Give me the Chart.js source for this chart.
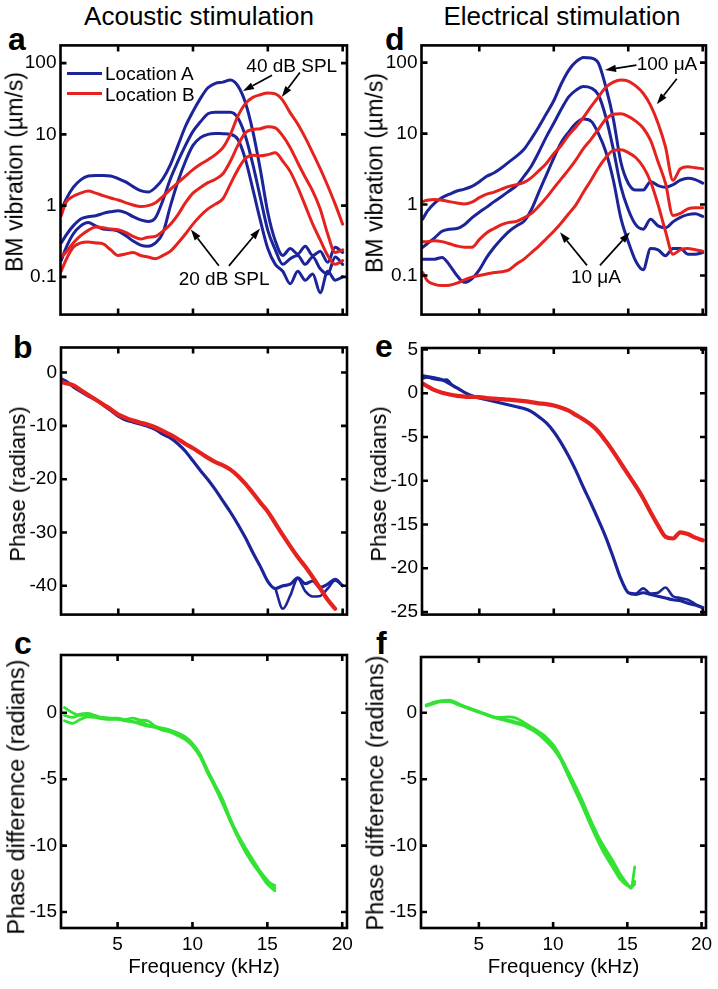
<!DOCTYPE html>
<html><head><meta charset="utf-8">
<script src="https://cdn.jsdelivr.net/npm/chart.js"></script>
<style>
body{margin:0;background:#fff;}
#fig{position:relative;width:718px;height:989px;background:#fff;overflow:hidden;font-family:"Liberation Sans",Arial,Helvetica,sans-serif;color:#000;}
#fig canvas{position:absolute;}
.lbl{position:absolute;white-space:nowrap;}
.ttl{font-size:26px;line-height:26px;width:300px;text-align:center;top:3px;}
.let{font-size:32px;line-height:32px;font-weight:bold;}
.ytl{position:absolute;white-space:nowrap;line-height:1;transform:translate(-50%,-50%) rotate(-90deg);}
</style></head><body><div id="fig">
<div class="lbl ttl" style="left:49px;">Acoustic stimulation</div>
<div class="lbl ttl" style="left:412px;">Electrical stimulation</div>
<div class="lbl let" style="left:8px;top:23px;">a</div>
<div class="lbl let" style="left:13px;top:331px;">b</div>
<div class="lbl let" style="left:14px;top:627px;">c</div>
<div class="lbl let" style="left:385px;top:23px;">d</div>
<div class="lbl let" style="left:375px;top:330px;">e</div>
<div class="lbl let" style="left:376px;top:627px;">f</div>
</div>
<script>
// ---------- data ----------
const FREQ = [1.2,1.5,2,2.5,3,3.5,4,4.5,5,5.5,6,6.5,7,7.5,8,8.5,9,9.5,10,10.5,11,11.5,12,12.5,13,13.5,14,14.5,15,15.5,16,16.5,17,17.5,18,18.5,19,19.5,20];
const FREQ_TICKS = [5,10,15,20];
const MAG_TICKS = [0.1,1,10,100];
const B_TICKS = [0,-10,-20,-30,-40];
const E_TICKS = [5,0,-5,-10,-15,-20,-25];
const CF_TICKS = [0,-5,-10,-15];

// panel a: acoustic, BM vibration (um/s)
const aBlue40 = [0.85,1.2,1.8,2.3,2.6,2.65,2.65,2.6,2.4,2.15,1.85,1.62,1.55,1.8,2.4,3.8,7,13,21,32,45,52,54,58,48,28,11,3.2,0.8,0.32,0.2,0.25,0.21,0.27,0.2,0.23,0.16,0.26,0.22];
const aBlue30 = [0.3,0.38,0.52,0.65,0.7,0.72,0.78,0.82,0.85,0.8,0.7,0.63,0.6,0.68,1.2,2.4,4.2,7,11,15,19.5,20.5,20.5,20.5,17,9.5,3.8,1.3,0.45,0.24,0.15,0.18,0.2,0.15,0.19,0.13,0.11,0.19,0.15];
const aBlue20 = [0.17,0.25,0.4,0.52,0.58,0.52,0.47,0.46,0.44,0.38,0.32,0.28,0.27,0.3,0.42,1.0,2.2,4.2,7,9,10,10.3,10.2,10,8.5,4.5,1.7,0.62,0.25,0.15,0.12,0.08,0.12,0.09,0.11,0.06,0.12,0.09,0.1];
const aRed40 = [0.72,1.1,1.35,1.5,1.6,1.5,1.38,1.28,1.2,1.1,1.02,0.97,1.0,1.1,1.35,1.7,2.1,2.6,3.2,3.8,4.4,5.2,6.5,10,18,27,33,36,38,37,30,20,14,9,5.5,3.3,1.9,1.05,0.55];
const aRed30 = [0.19,0.22,0.3,0.38,0.45,0.5,0.49,0.47,0.46,0.42,0.37,0.34,0.36,0.37,0.44,0.55,0.75,1.1,1.5,1.8,2.1,2.35,2.8,4.2,7,10.5,11.7,12,12.8,12.3,9.5,6.5,4,2.5,1.6,0.9,0.4,0.22,0.24];
const aRed20 = [0.12,0.17,0.26,0.3,0.31,0.3,0.29,0.24,0.2,0.21,0.22,0.2,0.19,0.18,0.2,0.23,0.3,0.4,0.55,0.72,0.9,1.05,1.25,2.0,3.2,4.6,5.1,5.0,5.2,5.5,4.2,3,1.8,1.0,0.55,0.33,0.2,0.15,0.17];

// panel d: electrical, BM vibration (um/s)
const dBlue100 = [0.62,0.8,1.05,1.25,1.4,1.55,1.65,1.8,2.1,2.5,2.8,3.3,4.0,4.8,6,8.5,12.5,19,29,50,78,103,118,116,98,45,16,4,2.0,1.6,1.6,2.1,1.85,1.75,1.9,2.2,2.35,2.25,2.0];
const dBlue50 = [0.25,0.28,0.34,0.42,0.45,0.46,0.52,0.65,0.78,0.92,1.1,1.3,1.55,1.85,2.5,3.5,5.5,9,14,22,33,41,46,44,35,17,6,1.8,0.85,0.52,0.45,0.62,0.5,0.47,0.57,0.66,0.72,0.74,0.68];
const dBlue10 = [0.17,0.17,0.17,0.18,0.14,0.1,0.08,0.09,0.12,0.18,0.25,0.33,0.42,0.5,0.58,0.85,1.5,2.6,4.5,7.5,10.5,14,16,15,10,5.5,2.2,0.65,0.3,0.16,0.12,0.24,0.23,0.19,0.24,0.24,0.2,0.2,0.21];
const dRed100 = [1.1,1.15,1.18,1.15,1.1,1.05,1.02,1.08,1.25,1.4,1.5,1.65,1.8,1.9,2.05,2.4,3.0,3.8,5.2,6.8,9.5,12.5,17,24,33,45,53,57,55,47,37,25,14,6.5,2.2,3.2,3.4,3.3,3.2];
const dRed30 = [0.3,0.3,0.31,0.3,0.28,0.26,0.25,0.25,0.32,0.4,0.46,0.52,0.56,0.58,0.65,0.75,0.95,1.25,1.7,2.3,3.1,4.3,6.2,8.3,11.5,16,18.7,19,17.5,15,12,8,4,2,0.7,0.75,0.87,0.9,0.9];
const dRed10 = [0.11,0.085,0.075,0.072,0.073,0.078,0.087,0.095,0.1,0.105,0.11,0.113,0.12,0.145,0.17,0.21,0.26,0.33,0.42,0.55,0.74,1.0,1.5,2.2,3.3,4.6,5.8,5.9,5.4,4.6,3.4,2.1,1.0,0.42,0.2,0.23,0.24,0.23,0.22];

// panel b: acoustic phase (radians)
const bRed = [-1.8,-2.0,-2.4,-3.3,-4.2,-5.1,-6.0,-6.9,-7.9,-8.5,-9.0,-9.4,-9.8,-10.3,-11.0,-11.7,-12.5,-13.4,-14.2,-15.1,-16.0,-16.8,-17.4,-18.2,-19.4,-20.9,-22.6,-24.4,-26.1,-28.3,-30.5,-32.6,-34.6,-36.4,-38.4,-40.5,-42.6,-44.3,null];
const bBlue = [-1.2,-1.6,-2.7,-3.6,-4.4,-5.1,-6.1,-7.1,-8.2,-8.9,-9.3,-9.7,-10.1,-10.7,-11.6,-12.3,-13.4,-14.8,-16.6,-18.4,-20.1,-22.0,-24.1,-26.2,-28.5,-31.0,-33.8,-36.4,-39.2,-40.5,-40.0,-39.7,-38.5,-39.6,-39.1,-40.3,-39.7,-38.8,-40.0];
const bBranchFreq = [15.5,16,16.5,17,17.5,18,18.5,19,19.5,20];
const bBlueBranch = [-40.5,-44.3,-41.8,-38.6,-41.0,-42.0,-41.9,-40.5,-39.0,-40.0];

// panel e: electrical phase (radians)
const eRed = [1.1,0.8,0.35,0.05,-0.15,-0.3,-0.38,-0.42,-0.45,-0.55,-0.62,-0.68,-0.74,-0.82,-0.9,-1.02,-1.15,-1.25,-1.4,-1.65,-2.0,-2.5,-3.0,-3.6,-4.4,-5.5,-6.7,-8.0,-9.3,-10.6,-12.0,-13.6,-15.1,-16.4,-16.6,-15.9,-16.1,-16.5,-16.8];
const eBlue = [2.0,1.9,1.75,1.55,1.1,0.6,0.1,-0.3,-0.55,-0.75,-0.95,-1.15,-1.35,-1.55,-1.75,-2.1,-2.7,-3.4,-4.4,-5.7,-7.2,-8.9,-10.8,-12.6,-14.5,-16.5,-18.8,-21.2,-22.8,-23.0,-22.8,-23.0,-23.2,-23.4,-23.6,-23.7,-24.0,-24.2,-24.5];
const eLowFreq = [1.2,1.5,2,2.5,2.8,3.2,3.6];
const eBlueLow = [1.7,1.8,1.6,1.5,1.55,0.9,0.5];
const eHighFreq = [15,15.5,16,16.5,17,17.5,18,18.5,19,19.5,20];
const eBlueHigh = [-22.8,-22.9,-22.3,-22.9,-22.8,-22.2,-23.2,-23.4,-23.6,-24.1,-24.5];

// panel c: acoustic phase difference (radians)
const cFreq = [1.45,2,2.5,3,3.5,4,4.5,5,5.5,6,6.5,7,7.5,8,8.5,9,9.5,10,10.5,11,11.5,12,12.5,13,13.5,14,14.5,15,15.5];
const cDiff1 = [0.4,0.0,-0.2,-0.15,-0.3,-0.35,-0.4,-0.4,-0.5,-0.4,-0.55,-0.6,-1.0,-1.15,-1.3,-1.5,-1.8,-2.3,-3.1,-4.3,-5.4,-6.5,-7.9,-9.1,-10.1,-11.0,-11.9,-12.6,-13.2];
const cDiff2 = [-0.2,-0.35,-0.1,-0.05,-0.2,-0.4,-0.45,-0.5,-0.55,-0.7,-0.7,-0.9,-1.05,-1.25,-1.4,-1.6,-1.95,-2.4,-3.2,-4.4,-5.5,-6.7,-8.0,-9.2,-10.3,-11.2,-12.0,-12.7,-13.0];
const cDiff3 = [-0.6,-0.8,-0.5,-0.3,-0.35,-0.45,-0.5,-0.45,-0.6,-0.65,-0.85,-1.0,-1.1,-1.3,-1.45,-1.7,-2.0,-2.5,-3.3,-4.5,-5.6,-6.8,-8.1,-9.3,-10.4,-11.3,-12.1,-12.9,-13.4];

// panel f: electrical phase difference (radians)
const fFreq = [1.45,2,2.5,3,3.5,4,4.5,5,5.5,6,6.5,7,7.5,8,8.5,9,9.5,10,10.5,11,11.5,12,12.5,13,13.5,14,14.5,15,15.25,15.5];
const fDiff1 = [0.55,0.8,0.9,0.95,0.75,0.5,0.3,0.1,-0.1,-0.3,-0.35,-0.3,-0.4,-0.7,-1.05,-1.4,-1.8,-2.4,-3.3,-4.4,-5.5,-6.7,-8.0,-9.2,-10.2,-11.1,-12.1,-12.9,-13.2,-11.6];
const fDiff2 = [0.5,0.7,0.85,0.85,0.65,0.45,0.25,0.05,-0.15,-0.35,-0.45,-0.55,-0.7,-0.85,-1.15,-1.5,-1.95,-2.55,-3.4,-4.6,-5.7,-6.9,-8.2,-9.4,-10.5,-11.4,-12.3,-12.9,-13.2,-12.7];
const fDiff3 = [0.6,0.75,0.9,0.9,0.7,0.45,0.25,0.05,-0.15,-0.35,-0.5,-0.65,-0.8,-0.95,-1.25,-1.6,-2.1,-2.7,-3.5,-4.7,-5.9,-7.1,-8.4,-9.6,-10.7,-11.6,-12.5,-13.0,-13.1,-12.9];

// ---------- styling & helpers ----------
const FAMILY = '"Liberation Sans", Arial, Helvetica, sans-serif';
const BLUE = '#1b2499', RED = '#e5221e', GREEN = '#33e233';
Chart.defaults.font.family = FAMILY;
Chart.defaults.color = '#000';
const fig = document.getElementById('fig');

function pts(xs, ys) { return xs.map((x, i) => ({x: x, y: ys[i]})); }
function line(xs, ys, color, width, label) {
  return {label: label, data: pts(xs, ys), borderColor: color, backgroundColor: color,
    borderWidth: width, pointRadius: 0, fill: false, cubicInterpolationMode: 'monotone',
    borderJoinStyle: 'round', borderCapStyle: 'round'};
}

const framePlugin = {
  id: 'frame',
  afterDatasetsDraw(chart, args, opts) {
    const ctx = chart.ctx, a = chart.chartArea;
    const xs = chart.scales.x, ys = chart.scales.y;
    const notes = (opts && opts.notes) || {};
    ctx.save();
    ctx.fillStyle = '#000'; ctx.strokeStyle = '#000';
    (notes.arrows || []).forEach(ar => {
      const x1 = xs.getPixelForValue(ar[0]), y1 = ys.getPixelForValue(ar[1]);
      const x2 = xs.getPixelForValue(ar[2]), y2 = ys.getPixelForValue(ar[3]);
      const ang = Math.atan2(y2 - y1, x2 - x1), hl = 11, hw = 3.6;
      const bx = x2 - hl * Math.cos(ang), by = y2 - hl * Math.sin(ang);
      ctx.lineWidth = 1.7;
      ctx.beginPath(); ctx.moveTo(x1, y1); ctx.lineTo(bx, by); ctx.stroke();
      ctx.beginPath(); ctx.moveTo(x2, y2);
      ctx.lineTo(bx + hw * Math.sin(ang), by - hw * Math.cos(ang));
      ctx.lineTo(bx - hw * Math.sin(ang), by + hw * Math.cos(ang));
      ctx.closePath(); ctx.fill();
    });
    ctx.font = '19px ' + FAMILY; ctx.textAlign = 'center'; ctx.textBaseline = 'middle';
    (notes.texts || []).forEach(t => ctx.fillText(t[2], xs.getPixelForValue(t[0]), ys.getPixelForValue(t[1])));
    // box and inward ticks
    ctx.lineWidth = 2.6;
    ctx.strokeRect(a.left, a.top, a.right - a.left, a.bottom - a.top);
    const tl = 6;
    ctx.beginPath();
    xs.ticks.forEach(t => {
      const px = xs.getPixelForValue(t.value);
      if (px < a.left - 0.5 || px > a.right + 0.5) return;
      ctx.moveTo(px, a.bottom); ctx.lineTo(px, a.bottom - tl);
      ctx.moveTo(px, a.top); ctx.lineTo(px, a.top + tl);
    });
    ys.ticks.forEach(t => {
      const py = ys.getPixelForValue(t.value);
      if (py < a.top - 0.5 || py > a.bottom + 0.5) return;
      ctx.moveTo(a.left, py); ctx.lineTo(a.left + tl, py);
      ctx.moveTo(a.right, py); ctx.lineTo(a.right - tl, py);
    });
    ctx.stroke();
    ctx.restore();
  }
};

function yTitle(text, cx, cy, size) {
  const d = document.createElement('div');
  d.className = 'ytl';
  d.style.left = cx + 'px'; d.style.top = cy + 'px'; d.style.fontSize = size + 'px';
  d.textContent = text;
  fig.appendChild(d);
}

function makePanel(p) {
  const cv = document.createElement('canvas');
  cv.width = p.box.w; cv.height = p.box.h;
  cv.style.left = p.box.x + 'px'; cv.style.top = p.box.y + 'px';
  cv.style.width = p.box.w + 'px'; cv.style.height = p.box.h + 'px';
  fig.appendChild(cv);
  const yw = p.plot.l - p.box.x, xh = p.box.y + p.box.h - p.plot.b;
  yTitle(p.yTitle[0], p.yTitle[1], p.yTitle[2], p.yTitle[3]);
  return new Chart(cv, {
    type: 'line',
    data: {datasets: p.datasets},
    options: {
      responsive: false, animation: false, devicePixelRatio: 1, events: [],
      layout: {padding: {left: 0, top: p.plot.t - p.box.y, right: p.box.x + p.box.w - p.plot.r, bottom: 0}},
      plugins: {legend: {display: false}, tooltip: {enabled: false}, frame: {notes: p.notes || {}}},
      scales: {
        x: {
          type: 'linear', min: p.xr[0], max: p.xr[1],
          afterBuildTicks: s => { s.ticks = FREQ_TICKS.map(v => ({value: v})); },
          afterFit: s => { s.height = xh; },
          grid: {display: false, drawTicks: false}, border: {display: false},
          ticks: {display: !!p.showX, padding: 5.3, maxRotation: 0, autoSkip: false, color: '#000', font: {size: 19}},
          title: {display: !!p.showX, text: 'Frequency (kHz)', color: '#000', font: {size: 20.5}, padding: {top: 0, bottom: 9.2}}
        },
        y: {
          type: p.log ? 'logarithmic' : 'linear', min: p.yr[0], max: p.yr[1],
          afterBuildTicks: s => { s.ticks = p.yTicks.map(v => ({value: v})); },
          afterFit: s => { s.width = yw; },
          grid: {display: false, drawTicks: false}, border: {display: false},
          ticks: {padding: 4, autoSkip: false, color: '#000', font: {size: 19}, callback: v => String(v)},
          title: {display: false}
        }
      }
    },
    plugins: [framePlugin]
  });
}

// ---------- panels ----------
const chartA = makePanel({
  box: {x: 0, y: 30, w: 359, h: 300}, plot: {l: 60.5, t: 42, r: 347, b: 316},
  xr: [1.15, 20.29], yr: [0.0296, 177], log: true, yTicks: MAG_TICKS,
  yTitle: ['BM vibration (µm/s)', 15, 172, 23],
  datasets: [
    line(FREQ, aRed40, RED, 3, 'Location B'), line(FREQ, aRed30, RED, 3), line(FREQ, aRed20, RED, 3),
    line(FREQ, aBlue40, BLUE, 3, 'Location A'), line(FREQ, aBlue30, BLUE, 3), line(FREQ, aBlue20, BLUE, 3)
  ],
  notes: {
    texts: [[16.6, 89.5, '40 dB SPL'], [12.08, 0.092, '20 dB SPL']],
    arrows: [[15.28, 67.3, 13.34, 40.5], [17.14, 74, 15.93, 33.5], [11.73, 0.143, 9.86, 0.463], [12.4, 0.143, 14.48, 0.478]]
  }
});

makePanel({
  box: {x: 0, y: 330, w: 359, h: 300}, plot: {l: 61, t: 347.5, r: 347, b: 622},
  xr: [1.17, 20.29], yr: [-45.4, 4.7], yTicks: B_TICKS,
  yTitle: ['Phase (radians)', 18, 484, 22],
  datasets: [
    line(FREQ, bRed, RED, 4.2),
    line(FREQ, bBlue, BLUE, 3.2), line(bBranchFreq, bBlueBranch, BLUE, 2.6)
  ]
});

makePanel({
  box: {x: 0, y: 630, w: 359, h: 359}, plot: {l: 61, t: 655, r: 347, b: 928},
  xr: [1.22, 20.32], yr: [-16.2, 4.35], yTicks: CF_TICKS, showX: true,
  yTitle: ['Phase difference (radians)', 17, 797, 23.5],
  datasets: [line(cFreq, cDiff1, GREEN, 2.8), line(cFreq, cDiff2, GREEN, 2.8), line(cFreq, cDiff3, GREEN, 2.8)]
});

makePanel({
  box: {x: 359, y: 30, w: 359, h: 300}, plot: {l: 421.5, t: 43, r: 706, b: 317},
  xr: [1.12, 20.22], yr: [0.0281, 175], log: true, yTicks: MAG_TICKS,
  yTitle: ['BM vibration (µm/s)', 375, 173, 23],
  datasets: [
    line(FREQ, dRed100, RED, 3), line(FREQ, dRed30, RED, 3), line(FREQ, dRed10, RED, 3),
    line(FREQ, dBlue100, BLUE, 3), line(FREQ, dBlue50, BLUE, 3), line(FREQ, dBlue10, BLUE, 3)
  ],
  notes: {
    texts: [[17.6, 93.8, '100 μA'], [12.83, 0.092, '10 μA']],
    arrows: [[15.55, 92, 13.44, 78.8], [18.26, 59.3, 16.92, 26], [12.23, 0.139, 10.42, 0.408], [13.1, 0.139, 15.11, 0.408]]
  }
});

makePanel({
  box: {x: 359, y: 330, w: 359, h: 300}, plot: {l: 422, t: 348, r: 706, b: 621},
  xr: [1.15, 20.22], yr: [-25.3, 5.17], yTicks: E_TICKS,
  yTitle: ['Phase (radians)', 379, 484, 22],
  datasets: [
    line(FREQ, eRed, RED, 4.2),
    line(FREQ, eBlue, BLUE, 3.2), line(eLowFreq, eBlueLow, BLUE, 2.6), line(eHighFreq, eBlueHigh, BLUE, 2.6)
  ]
});

makePanel({
  box: {x: 359, y: 630, w: 359, h: 359}, plot: {l: 421, t: 657, r: 706, b: 928},
  xr: [1.1, 20.3], yr: [-16.2, 4.2], yTicks: CF_TICKS, showX: true,
  yTitle: ['Phase difference (radians)', 376, 793, 23.5],
  datasets: [line(fFreq, fDiff1, GREEN, 2.8), line(fFreq, fDiff2, GREEN, 2.8), line(fFreq, fDiff3, GREEN, 2.8)]
});

// ---------- legend of panel a (from the chart's own datasets) ----------
const legendSets = chartA.data.datasets.filter(d => d.label).sort((p, q) => p.label < q.label ? -1 : 1);
legendSets.forEach((d, i) => {
  const ln = document.createElement('div');
  ln.style.cssText = 'position:absolute;left:67px;width:35px;height:3px;top:' + (71.5 + i * 20) + 'px;background:' + d.borderColor;
  fig.appendChild(ln);
  const tx = document.createElement('div');
  tx.className = 'lbl';
  tx.style.cssText = 'left:105px;font-size:19px;line-height:19px;top:' + (64 + i * 21) + 'px;';
  tx.textContent = d.label;
  fig.appendChild(tx);
});
</script>
</body></html>
